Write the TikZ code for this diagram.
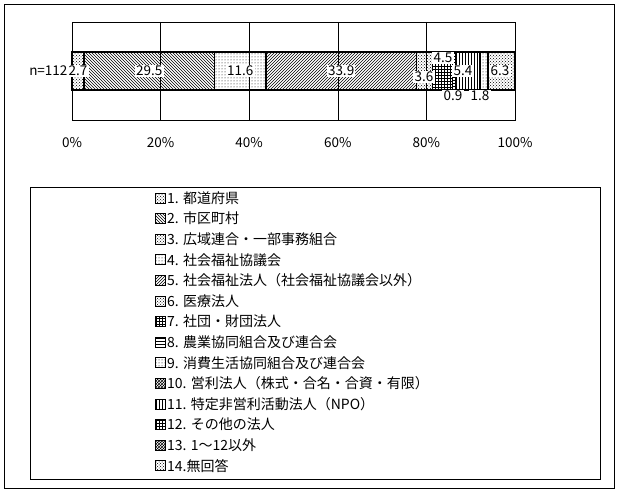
\documentclass[tikz,border=0pt]{standalone}
\usepackage{fontspec}
\setmainfont{Noto Sans CJK JP}
\usetikzlibrary{patterns}
\begin{document}
\begin{tikzpicture}[x=1pt,y=-1pt,font=\fontsize{13.5}{15}\selectfont,
  seg/.style={draw=black,line width=1.2pt},
  lab/.style={fill=white,inner sep=1.2pt},
  sq/.style={draw=black,minimum size=10pt,inner sep=0pt,line width=1pt},
  lg/.style={anchor=west,inner sep=0pt,font=\fontsize{14}{16}\selectfont}]
\useasboundingbox (0,0) rectangle (618,492);
\node[draw,line width=0.8pt,minimum width=610pt,minimum height=484pt] (frame) at (309,246) {};
\node[draw,line width=1pt,minimum width=443pt,minimum height=98pt,anchor=north west,inner sep=0] (plot) at (72,22) {};
\foreach \p in {20,40,60,80}{\draw[line width=0.5pt] (72+4.43*\p,22) -- (72+4.43*\p,120);}
\foreach \p in {0,20,40,60,80,100}{\node (ax\p) at (72+4.43*\p,143) {\p\%};}
\node[anchor=east] (n) at (71,71) {n=112};
\def\Y{52}\def\H{90}
\foreach \a/\b/\pat in {0/2.7/crosshatch dots,2.7/32.2/north west lines,32.2/43.8/dots,43.8/77.7/north east lines,77.7/81.3/crosshatch dots,81.3/85.8/grid,85.8/86.7/horizontal lines,86.7/92.1/vertical lines,92.1/93.9/dots,93.9/100/crosshatch dots}{
  \filldraw[seg,pattern=\pat] (72+4.43*\a,\Y) rectangle (72+4.43*\b,\H);}
\node[lab] (v1) at (72+4.43*1.35,71) {2.7};
\node[lab] (v2) at (72+4.43*17.45,71) {29.5};
\node[lab] (v4) at (72+4.43*38,71) {11.6};
\node[lab] (v5) at (72+4.43*60.75,71) {33.9};
\node[lab] (v6) at (424,77) {3.6};
\node[lab] (v7) at (443,58) {4.5};
\node[lab] (v10) at (453,96) {0.9};
\node[lab] (v11) at (463,71) {5.4};
\node[lab] (v12) at (480,96) {1.8};
\node[lab] (v14) at (500,71) {6.3};
\node[draw,line width=0.8pt,minimum width=570pt,minimum height=292pt,anchor=north west,inner sep=0] (legend) at (30,187) {};
\foreach \i/\pat/\t in {
 0/crosshatch dots/1. 都道府県,
 1/north west lines/2. 市区町村,
 2/crosshatch dots/3. 広域連合・一部事務組合,
 3/dots/4. 社会福祉協議会,
 4/north east lines/5. 社会福祉法人（社会福祉協議会以外）,
 5/crosshatch dots/6. 医療法人,
 6/grid/7. 社団・財団法人,
 7/horizontal lines/8. 農業協同組合及び連合会,
 8/dots/9. 消費生活協同組合及び連合会,
 9/crosshatch/10. 営利法人（株式・合名・合資・有限）,
 10/vertical lines/11. 特定非営利活動法人（NPO）,
 11/grid/12. その他の法人,
 12/crosshatch/13. 1～12以外,
 13/crosshatch dots/14.無回答}{
  \node[sq,pattern=\pat] (s\i) at (160,198+20.6*\i) {};
  \node[lg] (t\i) at (167,198+20.6*\i) {\t};}
\end{tikzpicture}
\end{document}
